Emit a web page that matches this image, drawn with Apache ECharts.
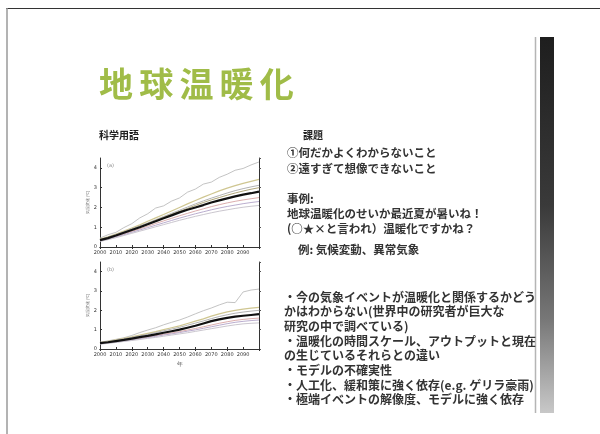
<!DOCTYPE html>
<html>
<head>
<meta charset="utf-8">
<script src="https://cdn.jsdelivr.net/npm/echarts@6/dist/echarts.min.js"></script>
<style>
  html, body { margin: 0; padding: 0; background: #fff; }
  #main { width: 600px; height: 434px; }
</style>
</head>
<body>
<div id="main"></div>
<script>
// 年（5年ごと）
const years = [2000, 2005, 2010, 2015, 2020, 2025, 2030, 2035, 2040, 2045, 2050,
               2055, 2060, 2065, 2070, 2075, 2080, 2085, 2090, 2095, 2100];

// 上のグラフ (a)
const aTop    = [0.45, 0.62, 0.74, 0.98, 1.18, 1.47, 1.68, 1.97, 2.08, 2.32, 2.48, 2.77, 2.93, 3.18, 3.28, 3.52, 3.68, 3.88, 3.97, 4.15, 4.3];
const aKhaki  = [0.40, 0.52, 0.66, 0.80, 0.96, 1.12, 1.30, 1.47, 1.64, 1.82, 2.00, 2.18, 2.35, 2.52, 2.68, 2.84, 2.98, 3.10, 3.22, 3.32, 3.42];
const aGray   = [0.38, 0.50, 0.63, 0.77, 0.92, 1.07, 1.22, 1.38, 1.54, 1.70, 1.86, 2.02, 2.18, 2.33, 2.47, 2.60, 2.73, 2.85, 2.95, 3.04, 3.12];
const aTan    = [0.36, 0.48, 0.60, 0.74, 0.88, 1.03, 1.18, 1.34, 1.50, 1.65, 1.80, 1.95, 2.10, 2.25, 2.38, 2.50, 2.62, 2.73, 2.83, 2.92, 3.00];
const aPink   = [0.33, 0.43, 0.54, 0.66, 0.79, 0.92, 1.05, 1.19, 1.32, 1.45, 1.58, 1.70, 1.82, 1.93, 2.04, 2.14, 2.23, 2.31, 2.38, 2.44, 2.50];
const aPurple = [0.30, 0.40, 0.51, 0.62, 0.74, 0.86, 0.98, 1.10, 1.22, 1.34, 1.46, 1.57, 1.68, 1.78, 1.88, 1.97, 2.05, 2.12, 2.19, 2.25, 2.30];
const aLow    = [0.28, 0.37, 0.47, 0.58, 0.69, 0.80, 0.91, 1.02, 1.13, 1.24, 1.35, 1.45, 1.55, 1.64, 1.73, 1.81, 1.88, 1.95, 2.01, 2.06, 2.10];
const aMean   = [0.35, 0.45, 0.58, 0.72, 0.86, 1.00, 1.15, 1.30, 1.45, 1.60, 1.75, 1.88, 2.00, 2.12, 2.25, 2.36, 2.46, 2.56, 2.65, 2.72, 2.80];

// 下のグラフ (b)
const bTop    = [0.35, 0.42, 0.50, 0.58, 0.70, 0.85, 0.98, 1.10, 1.25, 1.38, 1.50, 1.65, 1.82, 1.98, 2.12, 2.28, 2.42, 2.40, 2.95, 3.05, 3.10];
const bKhaki  = [0.33, 0.40, 0.47, 0.55, 0.63, 0.72, 0.81, 0.90, 1.00, 1.10, 1.20, 1.32, 1.44, 1.56, 1.70, 1.82, 1.92, 2.00, 2.06, 2.11, 2.15];
const bGray   = [0.32, 0.38, 0.45, 0.52, 0.60, 0.68, 0.76, 0.85, 0.94, 1.03, 1.12, 1.23, 1.34, 1.45, 1.57, 1.68, 1.77, 1.85, 1.91, 1.96, 2.00];
const bPink   = [0.28, 0.33, 0.38, 0.44, 0.50, 0.56, 0.62, 0.69, 0.76, 0.83, 0.90, 0.98, 1.06, 1.15, 1.24, 1.33, 1.41, 1.48, 1.53, 1.57, 1.60];
const bPurple = [0.26, 0.31, 0.36, 0.41, 0.47, 0.53, 0.59, 0.65, 0.72, 0.78, 0.85, 0.92, 0.99, 1.07, 1.15, 1.23, 1.31, 1.38, 1.43, 1.47, 1.50];
const bLow    = [0.25, 0.29, 0.34, 0.39, 0.44, 0.49, 0.55, 0.60, 0.66, 0.72, 0.78, 0.84, 0.91, 0.98, 1.05, 1.12, 1.19, 1.25, 1.30, 1.33, 1.35];
const bMean   = [0.30, 0.35, 0.41, 0.47, 0.54, 0.61, 0.68, 0.76, 0.84, 0.92, 1.00, 1.10, 1.20, 1.32, 1.44, 1.53, 1.61, 1.67, 1.72, 1.76, 1.80];

// スライドの文字
const titleChars = ['地', '球', '温', '暖', '化'];
const textLines = [
  '①何だかよくわからないこと',
  '②遠すぎて想像できないこと',
  '',
  '事例:',
  '地球温暖化のせいか最近夏が暑いね！',
  '(○★×と言われ）温暖化ですかね？'
];
const bulletLines = [
  '・今の気象イベントが温暖化と関係するかどう',
  'かはわからない(世界中の研究者が巨大な',
  '研究の中で調べている)',
  '・温暖化の時間スケール、アウトプットと現在',
  'の生じているそれらとの違い',
  '・モデルの不確実性',
  '・人工化、緩和策に強く依存(e.g. ゲリラ豪雨)',
  '・極端イベントの解像度、モデルに強く依存'
];

const FONT = '"Noto Sans CJK JP", sans-serif';
const chart = echarts.init(document.getElementById('main'));

const pairs = arr => years.map((y, i) => [y, arr[i]]);

const lineSeries = (gi, name, arr, color, width, z) => ({
  name: name,
  type: 'line',
  xAxisIndex: gi * 2,
  yAxisIndex: gi * 2,
  data: pairs(arr),
  showSymbol: false,
  silent: true,
  z: z || 2,
  lineStyle: { color: color, width: width }
});

const xAxes = [];
const yAxes = [];
[0, 1].forEach(gi => {
  xAxes.push({
    type: 'value', gridIndex: gi, min: 2000, max: 2100, interval: 10,
    name: gi === 1 ? '年' : '', nameLocation: 'middle', nameGap: 12,
    nameTextStyle: { fontSize: 6, color: '#555' },
    axisLine: { lineStyle: { color: '#333', width: 1 } },
    axisTick: { inside: true, length: 2, lineStyle: { color: '#333' } },
    axisLabel: {
      fontSize: 5, color: '#333', margin: 3, showMaxLabel: false, fontFamily: 'DejaVu Sans',
      formatter: v => String(v)
    },
    splitLine: { show: false }
  });
  xAxes.push({
    type: 'value', gridIndex: gi, position: 'top', min: 2000, max: 2100, interval: 20,
    axisLine: { lineStyle: { color: '#333', width: 1 } },
    axisTick: { inside: true, length: 2, lineStyle: { color: '#333' } },
    axisLabel: { show: false }, splitLine: { show: false }
  });
  yAxes.push({
    type: 'value', gridIndex: gi, min: 0, max: 4.5, interval: 1,
    name: '気温変化 (℃)', nameLocation: 'middle', nameGap: 9, nameRotate: 90,
    nameTextStyle: { fontSize: 4, color: '#777' },
    axisLine: { show: true, lineStyle: { color: '#333', width: 1 } },
    axisTick: { show: true, inside: true, length: 2, lineStyle: { color: '#333' } },
    axisLabel: { fontSize: 5, color: '#333', margin: 3, showMaxLabel: false, fontFamily: 'DejaVu Sans' },
    splitLine: { show: false }
  });
  yAxes.push({
    type: 'value', gridIndex: gi, position: 'right', min: 0, max: 4.5, interval: 1,
    axisLine: { show: true, lineStyle: { color: '#333', width: 1 } },
    axisTick: { show: true, inside: false, length: 2, lineStyle: { color: '#555' } },
    axisLabel: { show: false }, splitLine: { show: false }
  });
});

const graphics = [
  // 枠線
  { type: 'line', shape: { x1: 6, y1: 8.5, x2: 600, y2: 8.5 }, style: { stroke: '#333', lineWidth: 1.2 } },
  { type: 'line', shape: { x1: 7, y1: 8, x2: 7, y2: 434 }, style: { stroke: '#9a9a9a', lineWidth: 1.5 } },
  // 右側の縦帯
  { type: 'line', shape: { x1: 535.5, y1: 37, x2: 535.5, y2: 413 }, style: { stroke: '#b5b5b5', lineWidth: 1.5 } },
  {
    type: 'rect', shape: { x: 540, y: 37, width: 14, height: 376 },
    style: {
      fill: new echarts.graphic.LinearGradient(0, 0, 0, 1, [
        { offset: 0, color: '#1e1e1e' },
        { offset: 0.45, color: '#3a3a3a' },
        { offset: 0.75, color: '#777' },
        { offset: 1, color: '#c8c8c8' }
      ])
    }
  },
  // 見出し
  { type: 'text', x: 99, y: 135, style: { text: '科学用語', font: 'bold 10px ' + FONT, fill: '#222', verticalAlign: 'middle' } },
  { type: 'text', x: 303, y: 135, style: { text: '課題', font: 'bold 10px ' + FONT, fill: '#222', verticalAlign: 'middle' } },
  { type: 'text', x: 298, y: 250, style: { text: '例: 気候変動、異常気象', font: 'bold 11.5px ' + FONT, fill: '#333', verticalAlign: 'middle' } },
  // グラフ内のラベル
  { type: 'text', x: 107, y: 166, style: { text: '(a)', font: '5px DejaVu Sans', fill: '#888', verticalAlign: 'middle' } },
  { type: 'text', x: 107, y: 270, style: { text: '(b)', font: '5px DejaVu Sans', fill: '#888', verticalAlign: 'middle' } }
];

titleChars.forEach((c, i) => {
  graphics.push({
    type: 'text', x: 116 + i * 40.2, y: 84,
    style: { text: c, font: 'bold 34px ' + FONT, fill: '#a0bc48', align: 'center', verticalAlign: 'middle' }
  });
});
textLines.forEach((t, i) => {
  if (!t) return;
  graphics.push({
    type: 'text', x: 287, y: 153 + i * 15.2,
    style: { text: t, font: 'bold 11.5px ' + FONT, fill: '#333', verticalAlign: 'middle' }
  });
});
bulletLines.forEach((t, i) => {
  graphics.push({
    type: 'text', x: 284, y: 297 + i * 14.7,
    style: { text: t, font: 'bold 12px ' + FONT, fill: '#333', verticalAlign: 'middle' }
  });
});

const option = {
  backgroundColor: '#fff',
  animation: false,
  grid: [
    { left: 100, top: 158, width: 159, height: 89 },
    { left: 100, top: 262, width: 159, height: 87 }
  ],
  xAxis: xAxes,
  yAxis: yAxes,
  series: [
    lineSeries(0, 'top', aTop, '#b4b4b4', 0.8),
    lineSeries(0, 'khaki', aKhaki, '#cfc691', 1.2),
    lineSeries(0, 'gray', aGray, '#a9a9a9', 0.9),
    lineSeries(0, 'tan', aTan, '#a49a6a', 0.9),
    lineSeries(0, 'pink', aPink, '#d7a4a4', 0.9),
    lineSeries(0, 'purple', aPurple, '#b2a4c8', 0.9),
    lineSeries(0, 'low', aLow, '#c4c0c8', 0.9),
    lineSeries(0, 'mean', aMean, '#111', 2.2, 5),
    lineSeries(1, 'top', bTop, '#b4b4b4', 0.8),
    lineSeries(1, 'khaki', bKhaki, '#cfc691', 1.2),
    lineSeries(1, 'gray', bGray, '#a9a9a9', 0.9),
    lineSeries(1, 'pink', bPink, '#d7a4a4', 0.9),
    lineSeries(1, 'purple', bPurple, '#b2a4c8', 0.9),
    lineSeries(1, 'low', bLow, '#c4c0c8', 0.9),
    lineSeries(1, 'mean', bMean, '#111', 2.2, 5)
  ],
  graphic: graphics
};

chart.setOption(option);
window.addEventListener('resize', () => chart.resize());
</script>
</body>
</html>
